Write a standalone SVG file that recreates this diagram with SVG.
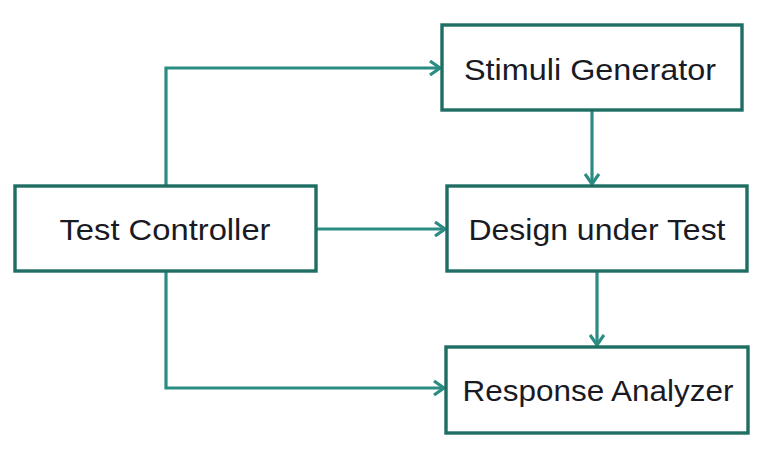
<svg xmlns="http://www.w3.org/2000/svg" width="775" height="461" viewBox="0 0 775 461">
<style>
.box{fill:#ffffff;stroke:#1f6e64;stroke-width:3.4}
.lbl{font-family:"Liberation Sans",Arial,sans-serif;font-size:30px;fill:#1a1a24;text-anchor:middle}
.con{fill:none;stroke:#2a8c83;stroke-width:3.2;marker-end:url(#arr)}
</style>
<defs>
<marker id="arr" viewBox="0 0 12 16" refX="11" refY="8" markerWidth="12" markerHeight="16" markerUnits="userSpaceOnUse" orient="auto">
<path d="M1,1 L11,8 L1,15" fill="none" stroke="#2a8c83" stroke-width="3.2" stroke-linejoin="miter"/>
</marker>
</defs>
<rect width="775" height="461" fill="#ffffff"/>
<g id="connectors">
<path class="con" d="M166,186 L166,68 L440,68"/>
<path class="con" d="M592,110 L592,184"/>
<path class="con" d="M316,229 L445,229"/>
<path class="con" d="M597,271 L597,345"/>
<path class="con" d="M166,271 L166,388 L444,388"/>
</g>
<g id="stimuli-generator">
<rect class="box" x="442" y="25" width="300" height="85"/>
<text class="lbl" x="590" y="80" textLength="252" lengthAdjust="spacingAndGlyphs">Stimuli Generator</text>
</g>
<g id="test-controller">
<rect class="box" x="15" y="186" width="301" height="85"/>
<text class="lbl" x="165" y="240" textLength="211" lengthAdjust="spacingAndGlyphs">Test Controller</text>
</g>
<g id="design-under-test">
<rect class="box" x="447" y="186" width="300" height="85"/>
<text class="lbl" x="597" y="240" textLength="257" lengthAdjust="spacingAndGlyphs">Design under Test</text>
</g>
<g id="response-analyzer">
<rect class="box" x="446" y="347" width="302" height="86"/>
<text class="lbl" x="598" y="401" textLength="271" lengthAdjust="spacingAndGlyphs">Response Analyzer</text>
</g>
</svg>
